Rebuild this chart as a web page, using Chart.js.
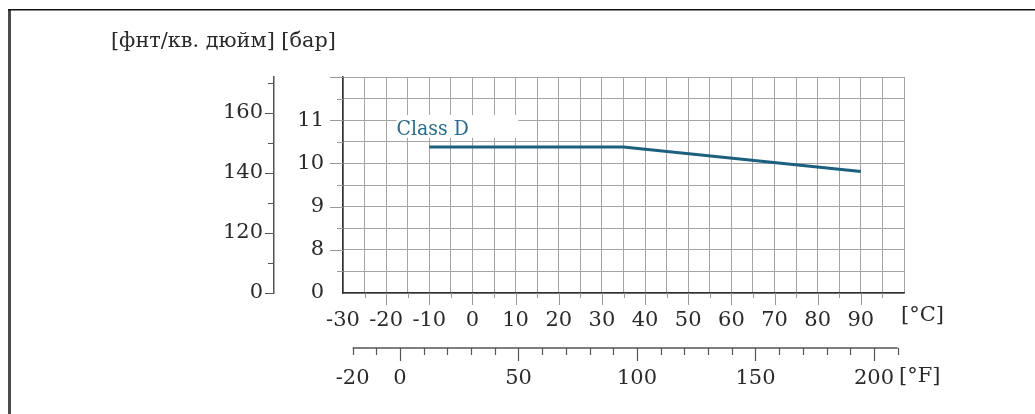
<!DOCTYPE html>
<html>
<head>
<meta charset="utf-8">
<script src="https://cdn.jsdelivr.net/npm/chart.js@4.4.1/dist/chart.umd.min.js"></script>
<style>
  html, body { margin: 0; padding: 0; background: #fff; }
</style>
</head>
<body>
<canvas id="graficoPresion" width="1035" height="414"></canvas>
<script>
// Datos de la curva (temperatura en °C, presión en bar)
const temperaturaC = [-10, 35, 90];
const presionBar = [10.38, 10.38, 9.81];

// Etiquetas de los ejes
const etiquetasC = [-30, -20, -10, 0, 10, 20, 30, 40, 50, 60, 70, 80, 90];
const etiquetasF = [-20, 0, 50, 100, 150, 200];
const etiquetasBar = [8, 9, 10, 11];
const etiquetasPsi = [120, 140, 160];
const nombreSerie = 'Class D';

const FUENTE = '"DejaVu Serif", serif';
const FUENTE_ESTRECHA = '"DejaVu Serif Condensed", "DejaVu Serif", serif';
const GRIS_REJILLA = '#a4a4a4';
const GRIS_MARCAS = '#999';
const GRIS_EJE = '#555';

// lista de ticks {value} entre min y max
const ticksDe = (min, max, paso) => {
    const t = [];
    for (let v = min; v <= max + 1e-9; v += paso) t.push({ value: Math.round(v * 100) / 100 });
    return t;
};

const marcas = {
    id: 'marcas',
    beforeDraw(chart) {
        const ctx = chart.ctx;
        ctx.save();
        // marco del dibujo
        ctx.fillStyle = '#4a4a4a';
        ctx.fillRect(8, 9, 3, 414);
        ctx.fillStyle = '#111';
        ctx.fillRect(8, 9, 1035, 1.5);
        ctx.restore();
    },
    afterDraw(chart) {
        const ctx = chart.ctx;
        const { x, y, psi, f } = chart.scales;
        ctx.save();
        ctx.lineWidth = 1;

        // marcas bajo el eje °C
        ctx.strokeStyle = GRIS_MARCAS;
        x.ticks.forEach(t => {
            if (t.value <= x.min || t.value >= x.max) return;
            const px = Math.round(x.getPixelForValue(t.value)) + 0.5;
            const largo = t.value % 10 === 0 ? 12 : 5;
            ctx.beginPath();
            ctx.moveTo(px, x.top);
            ctx.lineTo(px, x.top + largo);
            ctx.stroke();
        });

        // marcas del eje bar
        y.ticks.forEach(t => {
            if (t.value <= y.min) return;
            const py = Math.round(y.getPixelForValue(t.value)) + 0.5;
            const largo = Number.isInteger(t.value) ? 13 : 6;
            ctx.beginPath();
            ctx.moveTo(y.right - largo, py);
            ctx.lineTo(y.right, py);
            ctx.stroke();
        });

        // marcas del eje psi
        ctx.strokeStyle = GRIS_EJE;
        psi.ticks.forEach(t => {
            const py = Math.round(psi.getPixelForValue(t.value)) + 0.5;
            const largo = t.value % 20 === 0 ? 9 : 6;
            ctx.beginPath();
            ctx.moveTo(psi.right - largo, py);
            ctx.lineTo(psi.right, py);
            ctx.stroke();
        });

        // eje °F: línea y marcas
        const fIni = f.getPixelForValue(-20);
        const fFin = f.getPixelForValue(210);
        ctx.lineWidth = 1.5;
        ctx.beginPath();
        ctx.moveTo(fIni, f.top);
        ctx.lineTo(fFin, f.top);
        ctx.stroke();
        ctx.lineWidth = 1.2;
        f.ticks.forEach(t => {
            const px = Math.round(f.getPixelForValue(t.value)) + 0.5;
            const largo = t.value % 50 === 0 ? 13 : 7;
            ctx.beginPath();
            ctx.moveTo(px, f.top);
            ctx.lineTo(px, f.top + largo);
            ctx.stroke();
        });

        // textos de unidades
        ctx.fillStyle = '#2a2a2a';
        ctx.font = '20.8px ' + FUENTE;
        ctx.textBaseline = 'middle';
        ctx.textAlign = 'left';
        ctx.fillText('[фнт/кв. дюйм] [бар]', 111, 42);
        ctx.font = '21px ' + FUENTE;
        ctx.fillText('[°C]', 901, 316);
        ctx.fillText('[°F]', 899, 377);

        // rótulo de la curva sobre fondo blanco
        const bx0 = x.getPixelForValue(-17.6), bx1 = x.getPixelForValue(10.6);
        const by0 = y.getPixelForValue(11.12), by1 = y.getPixelForValue(10.59);
        ctx.fillStyle = '#fff';
        ctx.fillRect(bx0, by0, bx1 - bx0, by1 - by0);
        ctx.fillStyle = '#2b6b8a';
        ctx.font = '21px ' + FUENTE_ESTRECHA;
        ctx.textBaseline = 'alphabetic';
        ctx.fillText(nombreSerie, bx0, y.getPixelForValue(10.66));
        ctx.restore();
    }
};

Chart.defaults.font.family = FUENTE;
Chart.defaults.font.size = 21;
Chart.defaults.color = '#2a2a2a';

const ctx = document.getElementById('graficoPresion').getContext('2d');
new Chart(ctx, {
    type: 'line',
    data: {
        datasets: [{
            label: nombreSerie,
            data: temperaturaC.map((t, i) => ({ x: t, y: presionBar[i] })),
            borderColor: '#1c5f7e',
            borderWidth: 3,
            pointRadius: 0,
            tension: 0,
            xAxisID: 'x',
            yAxisID: 'y'
        }]
    },
    options: {
        responsive: false,
        animation: false,
        layout: { padding: { top: 77, right: 131, bottom: 16, left: 0 } },
        plugins: {
            legend: { display: false },
            tooltip: { enabled: false },
            title: { display: false }
        },
        scales: {
            x: {
                type: 'linear',
                position: 'bottom',
                weight: 0,
                min: -30,
                max: 100,
                afterBuildTicks: s => { s.ticks = ticksDe(-30, 100, 5); },
                afterFit: s => { s.height = 55; },
                grid: { color: GRIS_REJILLA, lineWidth: 1, drawTicks: false },
                border: { color: '#333', width: 1.5 },
                ticks: {
                    padding: 15,
                    maxRotation: 0,
                    autoSkip: false,
                    callback: v => etiquetasC.includes(v) ? String(v) : ''
                }
            },
            f: {
                type: 'linear',
                position: 'bottom',
                weight: 10,
                min: -24.05,
                max: 212.66,
                afterBuildTicks: s => { s.ticks = ticksDe(-20, 210, 10); },
                afterFit: s => { s.height = 50; },
                grid: { display: false, drawTicks: false },
                border: { display: false },
                ticks: {
                    padding: 18,
                    maxRotation: 0,
                    autoSkip: false,
                    callback: v => etiquetasF.includes(v) ? String(v) : ''
                }
            },
            y: {
                type: 'linear',
                position: 'left',
                weight: 0,
                min: 7,
                max: 12,
                afterBuildTicks: s => { s.ticks = ticksDe(7, 12, 0.5); },
                afterFit: s => { s.width = 69; },
                grid: { color: GRIS_REJILLA, lineWidth: 1, drawTicks: false },
                border: { color: '#333', width: 1.5 },
                ticks: {
                    padding: 19,
                    autoSkip: false,
                    // eje cortado: el valor inferior se rotula como 0
                    callback: v => v === 7 ? '0' : (etiquetasBar.includes(v) ? String(v) : '')
                }
            },
            psi: {
                type: 'linear',
                position: 'left',
                weight: 10,
                min: 100,
                max: 172,
                afterBuildTicks: s => { s.ticks = ticksDe(100, 170, 10); },
                afterFit: s => { s.width = 274; },
                grid: { drawOnChartArea: false, drawTicks: false },
                border: { color: GRIS_EJE, width: 1.5 },
                ticks: {
                    padding: 11,
                    autoSkip: false,
                    callback: v => v === 100 ? '0' : (etiquetasPsi.includes(v) ? String(v) : '')
                }
            }
        }
    },
    plugins: [marcas]
});
</script>
</body>
</html>
